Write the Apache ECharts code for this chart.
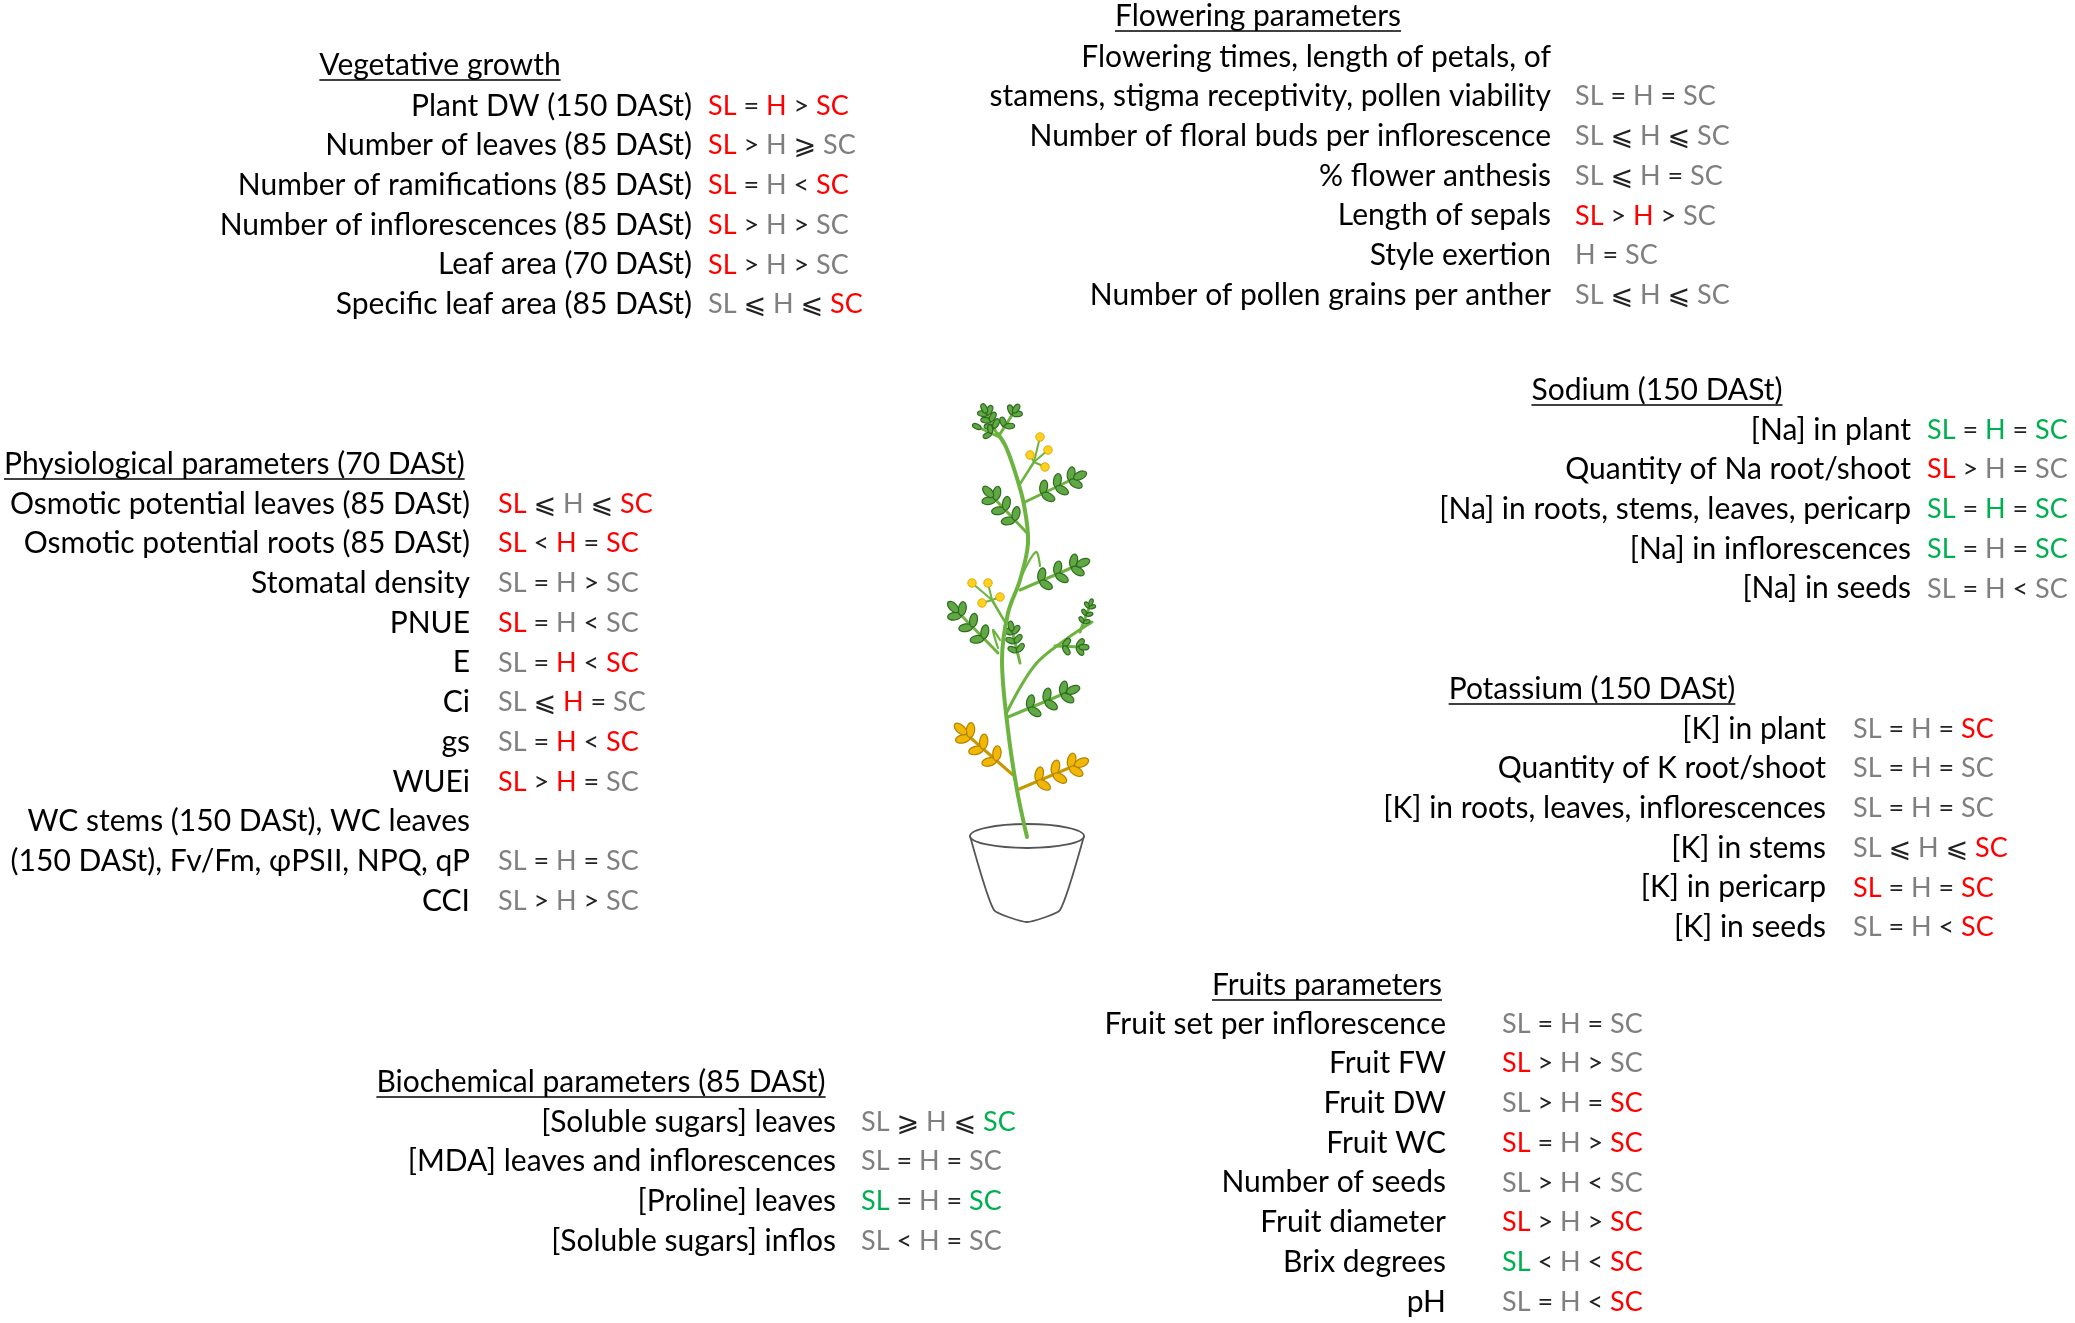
<!DOCTYPE html>
<html>
<head>
<meta charset="utf-8">
<script src="https://cdn.jsdelivr.net/npm/echarts@6/dist/echarts.min.js"></script>
<style>
  html, body { margin: 0; background: #fff; }
  #main { width: 2075px; height: 1323px; }
</style>
</head>
<body>
<div id="main"></div>
<script>
// ---- data : labels, comparisons, and which group is significant (R red, G green, - grey)
const vegTitle = 'Vegetative growth';
const vegLabels = ['Plant DW (150 DASt)', 'Number of leaves (85 DASt)', 'Number of ramifications (85 DASt)',
  'Number of inflorescences (85 DASt)', 'Leaf area (70 DASt)', 'Specific leaf area (85 DASt)'];
const vegComps = ['SL = H > SC', 'SL > H ⩾ SC', 'SL = H < SC', 'SL > H > SC', 'SL > H > SC', 'SL ⩽ H ⩽ SC'];
const vegSig = ['RRR', 'R--', 'R-R', 'R--', 'R--', '--R'];

const flowerTitle = 'Flowering parameters';
const flowerLabels = ['Flowering times, length of petals, of\nstamens, stigma receptivity, pollen viability',
  'Number of floral buds per inflorescence', '% flower anthesis', 'Length of sepals', 'Style exertion',
  'Number of pollen grains per anther'];
const flowerComps = ['SL = H = SC', 'SL ⩽ H ⩽ SC', 'SL ⩽ H = SC', 'SL > H > SC', 'H = SC', 'SL ⩽ H ⩽ SC'];
const flowerSig = ['---', '---', '---', 'RR-', '--', '---'];

const sodiumTitle = 'Sodium (150 DASt)';
const sodiumLabels = ['[Na] in plant', 'Quantity of Na root/shoot', '[Na] in roots, stems, leaves, pericarp',
  '[Na] in inflorescences', '[Na] in seeds'];
const sodiumComps = ['SL = H = SC', 'SL > H = SC', 'SL = H = SC', 'SL = H = SC', 'SL = H < SC'];
const sodiumSig = ['GGG', 'R--', 'GGG', 'G-G', '---'];

const physioTitle = 'Physiological parameters (70 DASt)';
const physioLabels = ['Osmotic potential leaves (85 DASt)', 'Osmotic potential roots (85 DASt)', 'Stomatal density',
  'PNUE', 'E', 'Ci', 'gs', 'WUEi', 'WC stems (150 DASt), WC leaves\n(150 DASt), Fv/Fm, φPSII, NPQ, qP', 'CCI'];
const physioComps = ['SL ⩽ H ⩽ SC', 'SL < H = SC', 'SL = H > SC', 'SL = H < SC', 'SL = H < SC', 'SL ⩽ H = SC',
  'SL = H < SC', 'SL > H = SC', 'SL = H = SC', 'SL > H > SC'];
const physioSig = ['R-R', 'RRR', '---', 'R--', '-RR', '-R-', '-RR', 'RR-', '---', '---'];

const potassiumTitle = 'Potassium (150 DASt)';
const potassiumLabels = ['[K] in plant', 'Quantity of K root/shoot', '[K] in roots, leaves, inflorescences',
  '[K] in stems', '[K] in pericarp', '[K] in seeds'];
const potassiumComps = ['SL = H = SC', 'SL = H = SC', 'SL = H = SC', 'SL ⩽ H ⩽ SC', 'SL = H = SC', 'SL = H < SC'];
const potassiumSig = ['--R', '---', '---', '--R', 'R-R', '--R'];

const fruitTitle = 'Fruits parameters';
const fruitLabels = ['Fruit set per inflorescence', 'Fruit FW', 'Fruit DW', 'Fruit WC', 'Number of seeds',
  'Fruit diameter', 'Brix degrees', 'pH'];
const fruitComps = ['SL = H = SC', 'SL > H > SC', 'SL > H = SC', 'SL = H > SC', 'SL > H < SC', 'SL > H > SC',
  'SL < H < SC', 'SL = H < SC'];
const fruitSig = ['---', 'R--', '--R', 'R-R', '---', 'R-R', 'G-R', '--R'];

const bioTitle = 'Biochemical parameters (85 DASt)';
const bioLabels = ['[Soluble sugars] leaves', '[MDA] leaves and inflorescences', '[Proline] leaves',
  '[Soluble sugars] inflos'];
const bioComps = ['SL ⩾ H ⩽ SC', 'SL = H = SC', 'SL = H = SC', 'SL < H = SC'];
const bioSig = ['--G', '---', 'G-G', '---'];

// ---- layout
const FONT = 'Lato, "DejaVu Sans", sans-serif';
const FS = 30;
const FS_COMP = 27;
const STEP = 39.7;
const sigColor = { R: '#ff0000', G: '#00b050', '-': '#7f7f7f' };

const measureCtx = document.createElement('canvas').getContext('2d');
measureCtx.font = FS + 'px ' + FONT;

const elements = [];

function addSection(title, labels, comps, sig, L) {
  const tw = measureCtx.measureText(title).width;
  const tx = L.titleAlign === 'left' ? L.titleX : L.titleX - tw / 2;
  elements.push({
    type: 'text', x: tx, y: L.titleY,
    style: { text: title, fontSize: FS, fontFamily: FONT, fill: '#000', align: 'left', verticalAlign: 'middle' }
  });
  elements.push({
    type: 'line', shape: { x1: tx, y1: L.titleY + 15, x2: tx + tw, y2: L.titleY + 15 },
    style: { stroke: '#000', lineWidth: 1.6 }
  });
  let row = 0;
  labels.forEach((lab, i) => {
    const lines = lab.split('\n');
    lines.forEach((ln) => {
      elements.push({
        type: 'text', x: L.labelX, y: L.rowY + row * STEP,
        style: { text: ln, fontSize: FS, fontFamily: FONT, fill: '#000', align: 'right', verticalAlign: 'middle' }
      });
      row++;
    });
    const toks = comps[i].split(' ');
    let k = 0;
    const rich = toks.map((t, j) => {
      if (j % 2) return '{op|' + t + '}';
      const code = sig[i][k++];
      return '{' + (code === 'R' ? 'r' : code === 'G' ? 'g' : 'x') + '|' + t + '}';
    }).join(' ');
    elements.push({
      type: 'text', x: L.compX, y: L.rowY + (row - 1) * STEP,
      style: {
        text: rich, fontSize: FS_COMP, fontFamily: FONT, fill: '#333', align: 'left', verticalAlign: 'middle',
        rich: {
          r: { fill: sigColor.R, fontSize: FS_COMP, fontFamily: FONT },
          g: { fill: sigColor.G, fontSize: FS_COMP, fontFamily: FONT },
          x: { fill: sigColor['-'], fontSize: FS_COMP, fontFamily: FONT },
          op: { fill: '#222', fontSize: FS_COMP, fontFamily: FONT }
        }
      }
    });
  });
}

addSection(vegTitle, vegLabels, vegComps, vegSig, { titleX: 440, titleY: 65, labelX: 692, compX: 708, rowY: 106 });
addSection(flowerTitle, flowerLabels, flowerComps, flowerSig, { titleX: 1258, titleY: 16, labelX: 1551, compX: 1575, rowY: 57 });
addSection(sodiumTitle, sodiumLabels, sodiumComps, sodiumSig, { titleX: 1657, titleY: 390, labelX: 1911, compX: 1927, rowY: 430 });
addSection(physioTitle, physioLabels, physioComps, physioSig, { titleX: 4, titleAlign: 'left', titleY: 464, labelX: 470, compX: 498, rowY: 504 });
addSection(potassiumTitle, potassiumLabels, potassiumComps, potassiumSig, { titleX: 1592, titleY: 689, labelX: 1826, compX: 1853, rowY: 729 });
addSection(fruitTitle, fruitLabels, fruitComps, fruitSig, { titleX: 1327, titleY: 985, labelX: 1446, compX: 1502, rowY: 1024 });
addSection(bioTitle, bioLabels, bioComps, bioSig, { titleX: 601, titleY: 1082, labelX: 836, compX: 861, rowY: 1122 });

// ---- plant illustration (decoration)
const GREEN = { stem: '#6cb33f', fill: '#5fa843', stroke: '#2f6b1f' };
const ORANGE = { stem: '#c99700', fill: '#f2b705', stroke: '#b08300' };

function line(pts, color, w) {
  elements.push({ type: 'polyline', shape: { points: pts, smooth: 0.35 }, style: { stroke: color, lineWidth: w, fill: null, lineCap: 'round' } });
}
function leaf(x, y, ang, size, c) {
  elements.push({
    type: 'ellipse', x: x, y: y, rotation: -ang,
    shape: { cx: 0, cy: 0, rx: size, ry: size * 0.55 },
    style: { fill: c.fill, stroke: c.stroke, lineWidth: 1.2 }
  });
}
function leafBranch(bx, by, tx, ty, pairs, c, size) {
  line([[bx, by], [tx, ty]], c.stem, 3);
  const a = Math.atan2(ty - by, tx - bx);
  for (let i = 0; i < pairs; i++) {
    const t = 0.35 + 0.55 * (pairs > 1 ? i / (pairs - 1) : 0);
    const px = bx + (tx - bx) * t, py = by + (ty - by) * t;
    [-1, 1].forEach((s) => {
      const ang = a + s * 0.95;
      leaf(px + Math.cos(ang) * size * 0.95, py + Math.sin(ang) * size * 0.95, ang, size, c);
    });
  }
  leaf(tx + Math.cos(a) * size * 0.8, ty + Math.sin(a) * size * 0.8, a, size, c);
}
function flowers(base, hub, pts) {
  line([base, hub], GREEN.stem, 2.5);
  pts.forEach((p) => {
    line([hub, p], GREEN.stem, 2);
    elements.push({ type: 'circle', shape: { cx: p[0], cy: p[1], r: 4.2 }, style: { fill: '#ffd21f', stroke: '#e5a800', lineWidth: 1 } });
  });
}

// pot
elements.push({ type: 'polyline', shape: { points: [[970, 836], [994, 910], [1027, 922], [1060, 910], [1084, 836]], smooth: 0.15 },
  style: { stroke: '#555', lineWidth: 1.8, fill: '#fff' } });
elements.push({ type: 'ellipse', shape: { cx: 1027, cy: 836, rx: 57, ry: 12 }, style: { stroke: '#555', lineWidth: 1.8, fill: '#fff' } });

// branches
leafBranch(1025, 502, 1075, 478, 3, GREEN, 7);
leafBranch(1027, 533, 992, 496, 3, GREEN, 7);
leafBranch(1020, 590, 1078, 565, 3, GREEN, 7);
leafBranch(998, 653, 957, 611, 3, GREEN, 7);
leafBranch(1020, 663, 1012, 630, 3, GREEN, 5);
leafBranch(1008, 717, 1068, 692, 3, GREEN, 7);
leafBranch(1013, 775, 965, 733, 3, ORANGE, 7.5);
leafBranch(1017, 790, 1076, 765, 3, ORANGE, 7.5);
line([[1007, 712], [1035, 665], [1065, 640], [1092, 622]], GREEN.stem, 3);
leafBranch(1055, 646, 1080, 647, 2, GREEN, 5);
leafBranch(1080, 632, 1090, 605, 3, GREEN, 3.5);
// top cluster
leafBranch(998, 436, 986, 412, 3, GREEN, 5);
leafBranch(1000, 434, 1014, 412, 2, GREEN, 5);
leafBranch(997, 436, 980, 428, 1, GREEN, 4.5);
// flowers
flowers([1020, 484], [1034, 462], [[1040, 437], [1048, 450], [1030, 455], [1045, 467]]);
flowers([1005, 622], [992, 600], [[972, 583], [988, 583], [982, 603], [1000, 597]]);
// buds
line([[1022, 575], [1036, 552], [1040, 566]], GREEN.stem, 2.2);
line([[998, 648], [993, 630], [1000, 640]], GREEN.stem, 2.2);
// main stem
line([[1027, 837], [1017, 790], [1008, 730], [1002, 660], [1008, 613], [1020, 580], [1028, 543], [1024, 505],
  [1016, 475], [1006, 447], [998, 434]], GREEN.stem, 4);

const chart = echarts.init(document.getElementById('main'), null, { renderer: 'canvas' });
chart.setOption({
  animation: false,
  backgroundColor: '#fff',
  graphic: { elements: elements }
});
</script>
</body>
</html>
